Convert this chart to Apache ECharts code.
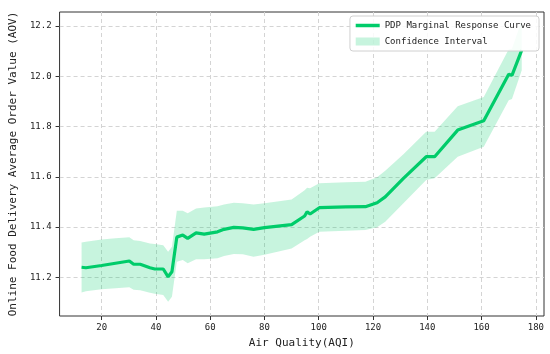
<!DOCTYPE html>
<html>
<head>
<meta charset="utf-8">
<script src="https://cdn.jsdelivr.net/npm/echarts@6/dist/echarts.min.js"></script>
<style>html,body{margin:0;padding:0;background:#fff}#c{width:550px;height:354px}</style>
</head>
<body>
<div id="c"></div>
<script>
const xVals = [12.6, 14.2, 20, 25.1, 30.2, 31.8, 34.2, 37.8, 39.6, 42.7, 44.5, 45.9, 47.7, 49.9, 51.7, 54.8, 57.8, 62.7, 65.1, 68.7, 72, 76, 80, 90, 94.8, 95.7, 96.8, 100.2, 110, 117.2, 121.5, 124.5, 131.2, 139.6, 142.7, 151.2, 160.8, 170, 171.2, 174.8];
const pdp = [11.240, 11.238, 11.247, 11.256, 11.265, 11.252, 11.252, 11.238, 11.233, 11.233, 11.202, 11.222, 11.360, 11.368, 11.355, 11.377, 11.372, 11.381, 11.391, 11.399, 11.397, 11.391, 11.398, 11.410, 11.444, 11.461, 11.452, 11.477, 11.480, 11.481, 11.497, 11.520, 11.594, 11.680, 11.680, 11.786, 11.823, 12.008, 12.004, 12.104];
const ciLower = [11.140, 11.145, 11.152, 11.156, 11.160, 11.150, 11.148, 11.139, 11.135, 11.130, 11.103, 11.123, 11.262, 11.269, 11.256, 11.272, 11.272, 11.276, 11.285, 11.293, 11.292, 11.282, 11.290, 11.315, 11.348, 11.352, 11.361, 11.381, 11.385, 11.388, 11.399, 11.421, 11.495, 11.587, 11.594, 11.680, 11.720, 11.905, 11.910, 12.024];
const ciUpper = [11.339, 11.342, 11.350, 11.355, 11.359, 11.348, 11.345, 11.335, 11.333, 11.328, 11.302, 11.322, 11.465, 11.465, 11.455, 11.474, 11.478, 11.483, 11.490, 11.497, 11.495, 11.490, 11.495, 11.510, 11.547, 11.556, 11.554, 11.574, 11.578, 11.580, 11.598, 11.624, 11.690, 11.779, 11.779, 11.881, 11.918, 12.108, 12.110, 12.223];
const xTicks = [20, 40, 60, 80, 100, 120, 140, 160, 180];
const yTicks = [11.2, 11.4, 11.6, 11.8, 12.0, 12.2];

const LINE = '#00CC6A';
const FILL = 'rgba(0,204,106,0.22)';
const FONT = 'DejaVu Sans Mono';

const chart = echarts.init(document.getElementById('c'), null, {renderer: 'canvas'});
const pts = (ys) => xVals.map((x, i) => [x, ys[i]]);
const bandData = xVals.map((x, i) => [x, ciLower[i], ciUpper[i]]);

function renderBand(params, api) {
  if (params.dataIndex !== 0) return null;
  const upper = [], lower = [];
  for (let i = 0; i < bandData.length; i++) {
    upper.push(api.coord([bandData[i][0], bandData[i][2]]));
    lower.push(api.coord([bandData[i][0], bandData[i][1]]));
  }
  const poly = upper.concat(lower.reverse());
  return {
    type: 'polygon',
    shape: {points: poly},
    style: {fill: FILL, stroke: 'none'},
    clipPath: {type: 'rect', shape: {x: params.coordSys.x, y: params.coordSys.y, width: params.coordSys.width, height: params.coordSys.height}}
  };
}

chart.setOption({
  animation: false,
  backgroundColor: '#fff',
  grid: {left: 54, right: 6, top: 12, bottom: 38, show: true, borderColor: '#333', borderWidth: 1, backgroundColor: 'transparent'},
  xAxis: {
    type: 'value', min: 4.5, max: 183,
    name: 'Air Quality(AQI)', nameLocation: 'middle', nameGap: 22,
    nameTextStyle: {fontFamily: FONT, fontSize: 11, color: '#222'},
    axisLine: {show: false},
    axisTick: {show: true, length: 4, lineStyle: {color: '#333'}, customValues: xTicks},
    axisLabel: {fontFamily: FONT, fontSize: 9, color: '#222', margin: 7, customValues: xTicks},
    splitLine: {show: true, lineStyle: {color: '#d4d4d4', type: [4, 3], width: 1}}
  },
  yAxis: {
    type: 'value', min: 11.046, max: 12.256,
    name: 'Online Food Delivery Average Order Value (AOV)', nameLocation: 'middle', nameGap: 35,
    nameTextStyle: {fontFamily: FONT, fontSize: 11, color: '#222'},
    axisLine: {show: false},
    axisTick: {show: true, length: 4, lineStyle: {color: '#333'}, customValues: yTicks},
    axisLabel: {fontFamily: FONT, fontSize: 9, color: '#222', margin: 8, customValues: yTicks, formatter: v => v.toFixed(1)},
    splitLine: {show: true, lineStyle: {color: '#d4d4d4', type: [4, 3], width: 1}}
  },
  legend: {
    orient: 'vertical', right: 11, top: 16,
    padding: [5, 8, 5, 4],
    backgroundColor: 'rgba(255,255,255,0.85)', borderColor: '#d0d0d0', borderWidth: 1, borderRadius: 3,
    itemWidth: 24, itemHeight: 8, itemGap: 7,
    textStyle: {fontFamily: FONT, fontSize: 9, color: '#222'},
    data: [
      {name: 'PDP Marginal Response Curve', itemStyle: {opacity: 0, color: 'transparent', borderWidth: 0}, lineStyle: {width: 3.5, color: LINE}},
      {name: 'Confidence Interval', icon: 'rect'}
    ]
  },
  series: [
    {
      name: 'Confidence Interval', type: 'custom', data: bandData,
      encode: {x: 0, y: [1, 2]},
      renderItem: renderBand, itemStyle: {color: FILL}, silent: true, z: 1
    },
    {
      name: 'PDP Marginal Response Curve', type: 'line', data: pts(pdp),
      symbol: 'none', showSymbol: false, lineStyle: {color: LINE, width: 3.2}, itemStyle: {color: LINE}, z: 3
    }
  ]
});
</script>
</body>
</html>
